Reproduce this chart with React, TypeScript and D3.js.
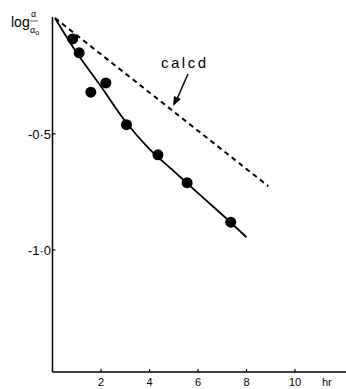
import React from 'react';
import * as d3 from 'd3';

// measured points (hr, log a/a0)
const obsHours = [0.83, 1.1, 1.58, 2.2, 3.05, 4.35, 5.55, 7.35];
const obsLog = [-0.09, -0.15, -0.32, -0.28, -0.46, -0.59, -0.71, -0.88];

// fitted (solid) curve
const fitHours = [0.1, 1, 2, 3, 4, 5, 6, 7, 8];
const fitLog = [0, -0.15, -0.295, -0.445, -0.565, -0.66, -0.755, -0.848, -0.945];

// calculated (dashed) line
const calcHours = [0.1, 8.9];
const calcLog = [0, -0.725];

const xTicks = [2, 4, 6, 8, 10];
const yTicks = [-0.5, -1.0];
const yTickLabels = ['-0·5', '-1·0'];

const W = 346, H = 389;

export default function App() {
  const x = d3.scaleLinear().domain([0, 12]).range([52.5, 343.5]);
  const y = d3.scaleLinear().domain([0, -1.526]).range([18, 372]);

  const line = d3.line<[number, number]>()
    .x(d => x(d[0]))
    .y(d => y(d[1]));

  const fitPath = line.curve(d3.curveCatmullRom)(fitHours.map((h, i) => [h, fitLog[i]]) as [number, number][]);
  const calcPath = d3.line<[number, number]>().x(d => x(d[0])).y(d => y(d[1]))(
    calcHours.map((h, i) => [h, calcLog[i]]) as [number, number][]);

  const x0 = x(0), yb = y.range()[1];
  const font = '"Liberation Sans", Arial, sans-serif';

  return (
    <svg width={W} height={H} style={{position: 'absolute', left: 0, top: 0, background: '#fff'}}
         fontFamily={font}>
      {/* axes */}
      <line x1={x0} y1={17} x2={x0} y2={yb} stroke="#000" strokeWidth={1.5}/>
      <line x1={x0} y1={yb} x2={W} y2={yb} stroke="#000" strokeWidth={1.5}/>
      {xTicks.map(t => (
        <g key={t}>
          <line x1={x(t)} x2={x(t)} y1={yb} y2={yb - 3} stroke="#000" strokeWidth={1.2}/>
          <text x={x(t)} y={386} textAnchor="middle" fontSize={11}>{t}</text>
        </g>
      ))}
      <text x={322} y={386} fontSize={11}>hr</text>
      {yTicks.map((t, i) => (
        <g key={t}>
          <line x1={x0} x2={x0 + 3} y1={y(t)} y2={y(t)} stroke="#000" strokeWidth={1.2}/>
          <text x={51} y={y(t) + 5} textAnchor="end" fontSize={13}>{yTickLabels[i]}</text>
        </g>
      ))}

      {/* y label */}
      <text x={11} y={27} fontSize={14}>log</text>
      <text x={31} y={17} fontSize={9}>α</text>
      <line x1={30} x2={38} y1={21} y2={21} stroke="#000" strokeWidth={0.6}/>
      <text x={30} y={33} fontSize={9}>α<tspan fontSize={7} dy={2}>o</tspan></text>

      {/* curves */}
      <path d={calcPath || ''} fill="none" stroke="#000" strokeWidth={2} strokeDasharray="5,4"/>
      <path d={fitPath || ''} fill="none" stroke="#000" strokeWidth={1.8}/>

      {obsHours.map((h, i) => (
        <circle key={i} cx={x(h)} cy={y(obsLog[i])} r={5.5} fill="#000"/>
      ))}

      {/* annotation */}
      <text x={161} y={68} fontSize={15} letterSpacing={2.5}>calcd</text>
      <line x1={188} y1={74} x2={177} y2={99} stroke="#000" strokeWidth={1.5}/>
      <path d="M173,106 L174,96 L181,99 Z" fill="#000"/>
    </svg>
  );
}
